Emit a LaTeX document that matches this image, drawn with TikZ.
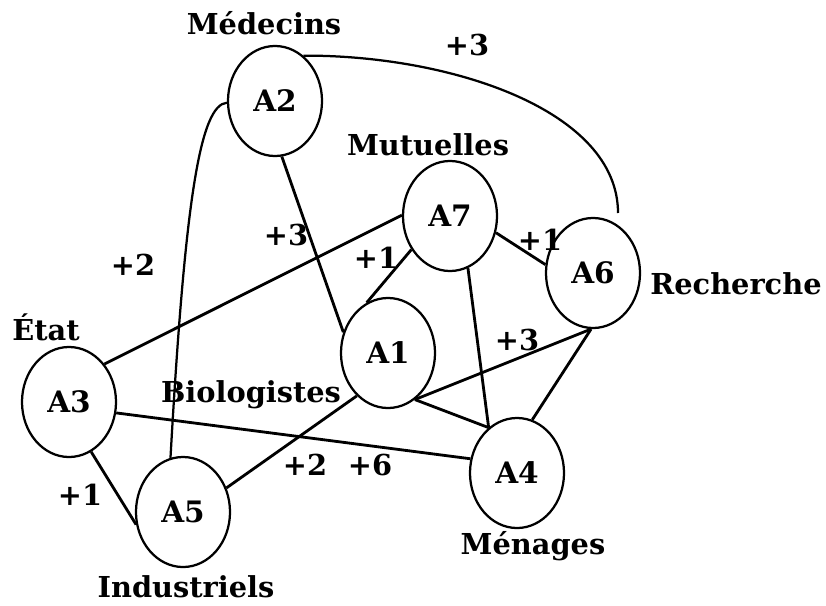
\documentclass[tikz,border=0pt]{standalone}
\usepackage{fontspec}
\setmainfont{DejaVu Serif}
\usepackage{tikz}
\usetikzlibrary{shapes}

\begin{document}
\begin{tikzpicture}[x=0.025cm,y=-0.025cm,
  font=\bfseries\fontsize{20.5}{24}\selectfont,
  actor/.style={draw,ellipse,line width=1.6pt,minimum width=2.35cm,minimum height=2.75cm,inner sep=0pt,font=\bfseries\fontsize{21}{24}\selectfont},
  link/.style={line width=2pt},
  curvelink/.style={line width=1.6pt}]

\useasboundingbox (0,0) rectangle (826,605);

\node[actor] (A1) at (388,353) {A1};
\node[actor] (A2) at (275,101) {A2};
\node[actor] (A3) at (69,402) {A3};
\node[actor] (A4) at (517,473) {A4};
\node[actor] (A5) at (183,512) {A5};
\node[actor] (A6) at (593,273) {A6};
\node[actor] (A7) at (450,216) {A7};

\node (medecins) at (264,23) {Médecins};
\node (mutuelles) at (428,145) {Mutuelles};
\node (recherche) at (736,284) {Recherche};
\node (etat) at (46,327) {État};
\node (biologistes) at (251,395) {Biologistes};
\node (industriels) at (186,587) {Industriels};
\node (menages) at (533,546) {Ménages};

\draw[link] (A2.-83) -- (A1.155);
\draw[link] (A3.47) -- (A7.179);
\draw[link] (A7.221) -- (A1.113);
\draw[link] (A7.-20) -- (A6.170);
\draw[link] (A7.-71) -- (A4.122);
\draw[link] (A1.-60) -- (A6.-92);
\draw[link] (A1.-60) -- (A4.122);
\draw[link] (A6.-92) -- (A4.74);
\draw[link] (A3.-13) -- (A4.163);
\draw[link] (A5.29) -- (A1.234);
\draw[link] (A3.-66) -- (A5.195);

\draw[curvelink] (A2.58) .. controls (450,55) and (618,110) .. (618,213) coordinate (endA6);
\draw[curvelink] (A2.182) .. controls (200,105) and (185,200) .. (A5.103);

\node (w1) at (467,45) {+3};
\node (w2) at (286,235) {+3};
\node (w3) at (133,265) {+2};
\node (w4) at (376,258) {+1};
\node (w5) at (540,240) {+1};
\node (w6) at (517,340) {+3};
\node (w7) at (305,465) {+2};
\node (w8) at (370,465) {+6};
\node (w9) at (80,495) {+1};
\end{tikzpicture}
\end{document}
